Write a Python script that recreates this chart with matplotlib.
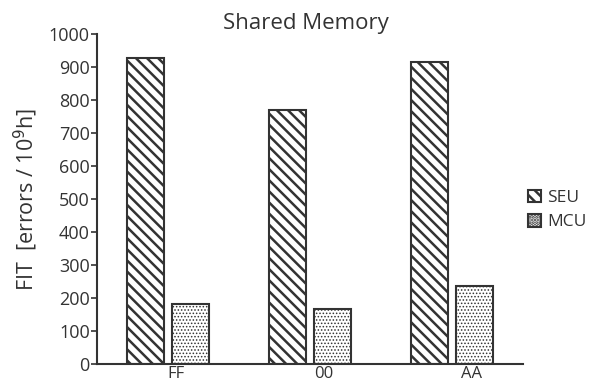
import matplotlib.pyplot as plt
import numpy as np

plt.rcParams['font.family'] = ['Open Sans', 'DejaVu Sans']
plt.rcParams['hatch.color'] = '#333333'

categories = ["FF", "00", "AA"]
seu = [927, 770, 915]
mcu = [182, 167, 236]
label_shift = [0.06, 0.10, 0.14]

x = np.arange(len(categories))
w = 0.26
off = 0.158

fig = plt.figure(figsize=(5.9, 3.86), dpi=100)
ax = fig.add_axes([0.164, 0.057, 0.722, 0.855])

plt.rcParams['hatch.linewidth'] = 1.8
b1 = ax.bar(x - off, seu, w, color='white', edgecolor='#333333', linewidth=1.5,
            hatch='\\\\\\', label='SEU')
b2 = ax.bar(x + off, mcu, w, color='white', edgecolor='#333333', linewidth=1.5,
            hatch='.....', label='MCU')
for p in b2:
    p.set_hatch_linewidth(0.7)

ax.set_xlim(-0.5, 2.5)
ax.set_ylim(0, 1000)
ax.set_yticks(np.arange(0, 1001, 100))
ax.set_xticks(x + np.array(label_shift))
ax.set_xticklabels(categories)
ax.tick_params(axis='x', length=0, labelsize=12, colors='#333333', pad=1.5)
ax.tick_params(axis='y', length=4, width=1.2, labelsize=13, colors='#333333', pad=1)
for s in ['top', 'right']:
    ax.spines[s].set_visible(False)
for s in ['left', 'bottom']:
    ax.spines[s].set_color('#333333')
    ax.spines[s].set_linewidth(1.5)

ax.set_ylabel("FIT  [errors / 10$^9$h]", fontsize=15.5, color='#333333', labelpad=6)
ax.set_title("Shared Memory", fontsize=16, color='#333333', pad=3, x=0.49)

leg = fig.legend(handles=[b1, b2], loc='center left', bbox_to_anchor=(0.895, 0.456),
                 frameon=False, fontsize=12.5, handlelength=0.75, handleheight=0.75,
                 handletextpad=0.35, labelspacing=0.45, labelcolor='#333333',
                 borderaxespad=0, borderpad=0)

fig.savefig("out.png", dpi=100)
